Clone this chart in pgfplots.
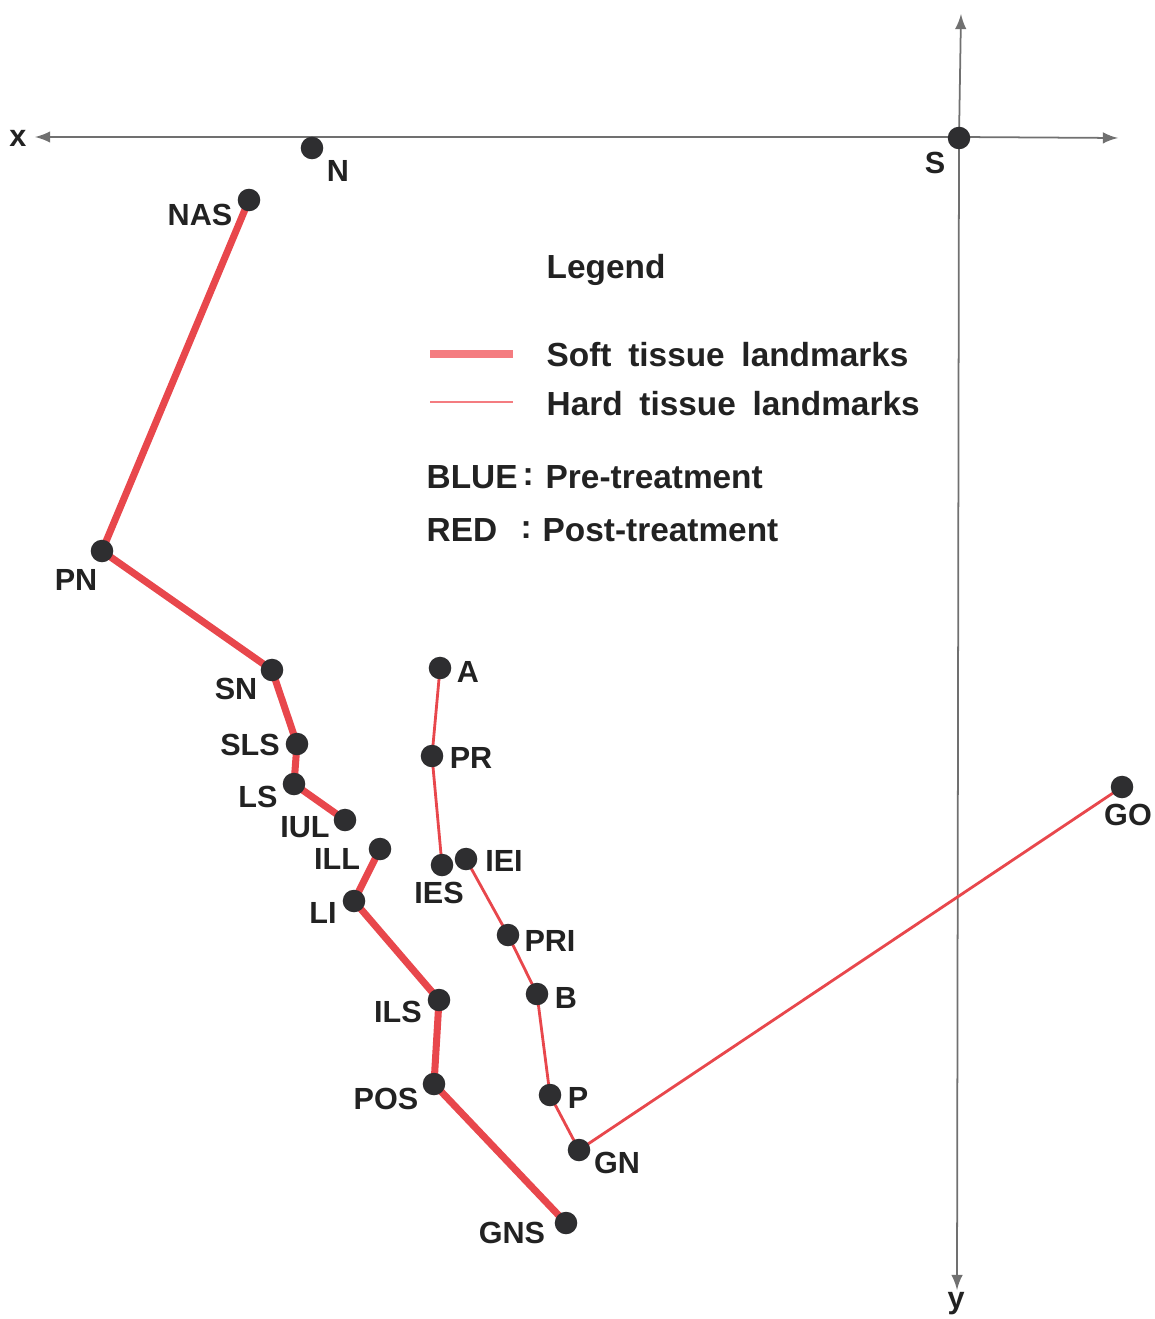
\documentclass[border=0pt]{standalone}
\usepackage{pgfplots}
\pgfplotsset{compat=1.18}
\usepackage{fontspec}
\setmainfont{Liberation Sans}
\definecolor{linered}{HTML}{E8474C}
\definecolor{legred}{HTML}{F47C80}
\definecolor{dotc}{HTML}{2E2E30}
\definecolor{txt}{HTML}{222222}
\definecolor{axc}{HTML}{707070}
\begin{document}
\begin{tikzpicture}[
  lbl/.style={font=\fontsize{8.7}{10}\selectfont\bfseries, text=txt, inner sep=0pt},
  leg/.style={font=\fontsize{9.5}{11}\selectfont\bfseries, text=txt, inner sep=0pt, anchor=west},
]
\begin{axis}[
  scale only axis, width=11.55cm, height=13.19cm,
  xmin=0, xmax=1155, ymin=0, ymax=1319, y dir=reverse,
  hide axis, clip=false,
]
\addplot[draw=none, forget plot] coordinates {(0,0) (1155,1319)};
% axes
\addplot[axc, line width=0.5pt, -latex] coordinates {(960,137) (35,137)};
\addplot[axc, line width=0.5pt, -latex] coordinates {(960,137) (1118,138)};
\addplot[axc, line width=0.5pt, -latex] coordinates {(959,138) (961,14)};
\addplot[axc, line width=0.5pt, -latex] coordinates {(959,138) (957,1290)};
% soft tissue
\addplot[linered, line width=2pt, line join=round] coordinates {(249,200) (102,551) (272,670) (297,744) (294,784) (345,820)};
\addplot[linered, line width=2pt, line join=round] coordinates {(380,849) (354,901) (439,1000) (434,1084) (566,1223)};
% hard tissue
\addplot[linered, line width=0.8pt, line join=round] coordinates {(440,668) (432,756) (442,865)};
\addplot[linered, line width=0.8pt, line join=round] coordinates {(466,859) (508,935) (537,994) (550,1095) (579,1150) (1122,787)};
% points
\addplot[only marks, mark=*, mark size=3pt, mark options={fill=dotc, draw=dotc}] coordinates {
(312,148) (249,200) (102,551) (272,670) (297,744) (294,784) (345,820)
(380,849) (354,901) (439,1000) (434,1084) (566,1223)
(440,668) (432,756) (442,865) (466,859) (508,935) (537,994) (550,1095) (579,1150) (1122,787)
(959,138)};
% legend lines
\addplot[legred, line width=2.3pt] coordinates {(430,354) (513,354)};
\addplot[legred, line width=0.8pt] coordinates {(430,402) (513,402)};
% labels
\node[lbl] at (axis cs:18,138) {x};
\node[lbl] at (axis cs:956,1304) {y};
\node[lbl] at (axis cs:935,163) {S};
\node[lbl] at (axis cs:338,171) {N};
\node[lbl, anchor=east] at (axis cs:233,215) {NAS};
\node[lbl] at (axis cs:76,580) {PN};
\node[lbl] at (axis cs:236,689) {SN};
\node[lbl] at (axis cs:250,745) {SLS};
\node[lbl] at (axis cs:258,797) {LS};
\node[lbl] at (axis cs:305,827) {IUL};
\node[lbl] at (axis cs:337,859) {ILL};
\node[lbl] at (axis cs:323,913) {LI};
\node[lbl] at (axis cs:439,893) {IES};
\node[lbl] at (axis cs:504,861) {IEI};
\node[lbl] at (axis cs:468,672) {A};
\node[lbl] at (axis cs:471,758) {PR};
\node[lbl] at (axis cs:550,941) {PRI};
\node[lbl] at (axis cs:566,998) {B};
\node[lbl] at (axis cs:578,1098) {P};
\node[lbl] at (axis cs:617,1163) {GN};
\node[lbl] at (axis cs:1128,815) {GO};
\node[lbl] at (axis cs:398,1012) {ILS};
\node[lbl] at (axis cs:386,1099) {POS};
\node[lbl] at (axis cs:512,1233) {GNS};
% legend text
\node[leg] at (axis cs:546,270) {Legend};
\node[leg] at (axis cs:546,355) {Soft\hspace{0.5em}tissue\hspace{0.5em}landmarks};
\node[leg] at (axis cs:546,404) {Hard\hspace{0.5em}tissue\hspace{0.5em}landmarks};
\node[leg] at (axis cs:426,477) {BLUE};
\node[leg] at (axis cs:522,477) {:};
\node[leg] at (axis cs:545,477) {Pre-treatment};
\node[leg] at (axis cs:426,530) {RED};
\node[leg] at (axis cs:520,530) {:};
\node[leg] at (axis cs:542,530) {Post-treatment};
\end{axis}
\end{tikzpicture}
\end{document}
